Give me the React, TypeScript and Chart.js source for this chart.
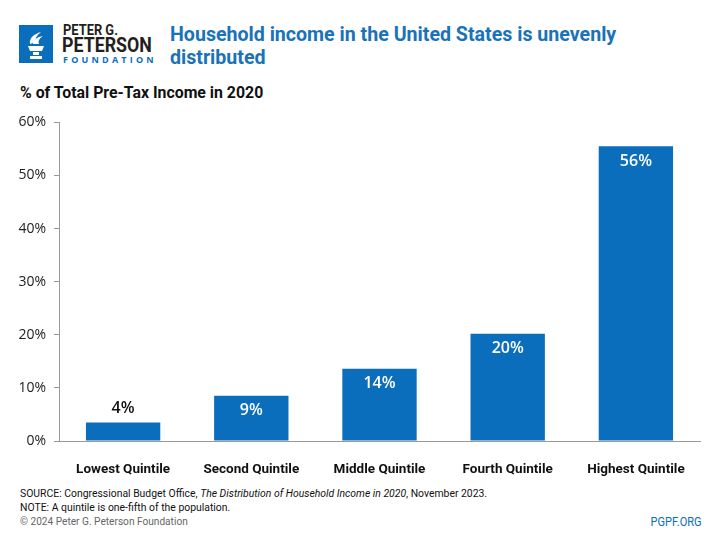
import React, { useEffect, useRef } from "react";
import { Chart, registerables } from "chart.js";

Chart.register(...registerables);

const categories = ["Lowest Quintile", "Second Quintile", "Middle Quintile", "Fourth Quintile", "Highest Quintile"];
const shares = [3.5, 8.5, 13.6, 20.2, 55.5];
const yTicks = [0, 10, 20, 30, 40, 50, 60];

const BLUE = "#0a6ebd";
const SANS = '"Roboto", "DejaVu Sans", sans-serif';
const LABEL_FONT = '"Open Sans", "DejaVu Sans", sans-serif';

const valueLabels = {
  id: "valueLabels",
  afterDatasetsDraw(chart: any) {
    const ctx = chart.ctx;
    const meta = chart.getDatasetMeta(0);
    ctx.save();
    ctx.font = `600 16px ${LABEL_FONT}`;
    ctx.textAlign = "center";
    ctx.textBaseline = "middle";
    meta.data.forEach((bar: any, i: number) => {
      const v = shares[i];
      const text = `${Math.round(v)}%`;
      const h = bar.base - bar.y;
      if (h < 30) {
        ctx.fillStyle = "#111";
        ctx.fillText(text, bar.x, bar.y - 14);
      } else {
        ctx.fillStyle = "#fff";
        ctx.fillText(text, bar.x, bar.y + 15);
      }
    });
    ctx.restore();
  },
};

function Narrow(props: { left?: number; right?: number; top: number; scale: number; style: React.CSSProperties; children: React.ReactNode }) {
  const { left, right, top, scale, style, children } = props;
  return (
    <div
      style={{
        position: "absolute",
        left,
        right,
        top,
        whiteSpace: "nowrap",
        transform: `scaleX(${scale})`,
        transformOrigin: right !== undefined ? "right top" : "left top",
        ...style,
      }}
    >
      {children}
    </div>
  );
}

function Logo() {
  return (
    <div style={{ position: "absolute", left: 19, top: 25, width: 150, height: 40 }}>
      <svg width="34" height="38" style={{ position: "absolute", left: 0, top: 0 }}>
        <rect x="0" y="0" width="34" height="38" fill={BLUE} />
        <path d="M11 19 C10 13 15 9 22 7 C18 10 16 13 17 17 Z" fill="#fff" />
        <path d="M14 19 C14 15 18 12 24 11 C20 14 19 16 20 19 Z" fill="#fff" />
        <path d="M9 21 L25 21 L23 26 L11 26 Z" fill="#fff" />
        <rect x="14" y="27" width="6" height="3" fill="#fff" />
        <rect x="11" y="31" width="12" height="3" fill="#fff" />
      </svg>
      <Narrow left={44} top={-3} scale={0.92} style={{ font: `bold 14px ${SANS}`, color: "#231f20", lineHeight: "16px" }}>PETER G.</Narrow>
      <Narrow left={43} top={9} scale={0.89} style={{ font: `bold 20px ${SANS}`, color: "#231f20", lineHeight: "22px" }}>PETERSON</Narrow>
      <div style={{ position: "absolute", left: 44, top: 30, font: `bold 9px ${LABEL_FONT}`, color: BLUE, lineHeight: "10px", letterSpacing: "3.2px", whiteSpace: "nowrap" }}>FOUNDATION</div>
    </div>
  );
}

export default function App() {
  const canvasRef = useRef<HTMLCanvasElement | null>(null);

  useEffect(() => {
    const canvas = canvasRef.current;
    if (!canvas) return;
    const chart = new Chart(canvas, {
      type: "bar",
      data: {
        labels: categories,
        datasets: [
          {
            data: shares,
            backgroundColor: BLUE,
            borderWidth: 0,
            barPercentage: 0.58,
            categoryPercentage: 1,
          },
        ],
      },
      options: {
        animation: false,
        responsive: false,
        maintainAspectRatio: false,
        layout: { padding: { left: 0, right: 20, top: 7, bottom: 0 } },
        plugins: { legend: { display: false }, tooltip: { enabled: false } },
        scales: {
          x: {
            grid: { display: true, drawOnChartArea: false, drawTicks: false },
            border: { display: true, color: "#999", width: 1 },
            ticks: { color: "#111", font: { family: SANS, size: 13.5, weight: "bold" }, padding: 21 },
            afterFit: (s: any) => { s.height = 40; },
          },
          y: {
            min: 0,
            max: 60,
            afterBuildTicks: (s: any) => { s.ticks = yTicks.map((v) => ({ value: v })); },
            grid: { drawOnChartArea: false, drawTicks: true, tickLength: 5, color: "#999" },
            border: { display: true, color: "#999", width: 1 },
            ticks: { color: "#222", font: { family: LABEL_FONT, size: 14 }, padding: 8, callback: (v: any) => `${v}%` },
            afterFit: (s: any) => { s.width = 59; },
          },
        },
      },
      plugins: [valueLabels],
    });
    return () => chart.destroy();
  }, []);

  return (
    <div style={{ position: "relative", width: 720, height: 540, margin: -8, background: "#fff", overflow: "hidden" }}>
      <Logo />
      <Narrow left={170} top={23} scale={0.98} style={{ font: `bold 20px ${SANS}`, color: "#1a72b8", lineHeight: "23px" }}>
        Household income in the United States is unevenly<br />distributed
      </Narrow>
      <Narrow left={20} top={83} scale={0.99} style={{ font: `bold 16px ${SANS}`, color: "#111" }}>
        % of Total Pre-Tax Income in 2020
      </Narrow>
      <canvas ref={canvasRef} width={720} height={375} style={{ position: "absolute", left: 0, top: 106, width: 720, height: 375 }} />
      <Narrow left={20} top={487} scale={0.945} style={{ font: `11px ${SANS}`, color: "#111", lineHeight: "14px" }}>
        SOURCE: Congressional Budget Office, <i>The Distribution of Household Income in 2020</i>, November 2023.<br />
        NOTE: A quintile is one-fifth of the population.
      </Narrow>
      <Narrow left={20} top={515} scale={0.92} style={{ font: `11px ${SANS}`, color: "#666" }}>
        © 2024 Peter G. Peterson Foundation
      </Narrow>
      <Narrow right={18} top={515} scale={0.92} style={{ font: `12px ${SANS}`, color: BLUE }}>
        PGPF.ORG
      </Narrow>
    </div>
  );
}
